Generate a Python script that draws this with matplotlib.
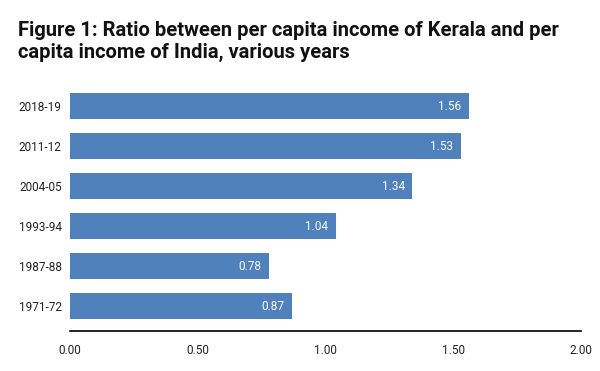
import matplotlib.pyplot as plt

plt.rcParams['font.family'] = ['Roboto', 'DejaVu Sans']

# Data (bottom to top)
years = ["1971-72", "1987-88", "1993-94", "2004-05", "2011-12", "2018-19"]
ratio = [0.87, 0.78, 1.04, 1.34, 1.53, 1.56]
xticks = [0.0, 0.5, 1.0, 1.5, 2.0]

bar_color = "#4f81bd"

fig = plt.figure(figsize=(6, 3.71), dpi=100)
ax = fig.add_axes([70 / 600, 1 - 331 / 371, 511 / 600, 245 / 371])

ypos = range(len(years))
bars = ax.barh(ypos, ratio, height=0.65, color=bar_color)

for b, v in zip(bars, ratio):
    ax.text(b.get_width() - 0.03, b.get_y() + b.get_height() / 2, f"{v:.2f}",
            ha="right", va="center", color="white", fontsize=8.5)

ax.set_xlim(0, 2)
ax.set_ylim(-0.62, 5.5)
ax.set_yticks(list(ypos))
ax.set_yticklabels(years)
ax.set_xticks(xticks)
ax.set_xticklabels([f"{t:.2f}" for t in xticks])
ax.tick_params(axis="both", length=0, labelsize=8.5, labelcolor="#222222")
ax.tick_params(axis="x", pad=9)
ax.tick_params(axis="y", pad=6)

for s in ["top", "right", "left"]:
    ax.spines[s].set_visible(False)
ax.spines["bottom"].set_color("#000000")
ax.spines["bottom"].set_linewidth(1.2)

fig.text(18 / 600, 1 - 21 / 371,
         "Figure 1: Ratio between per capita income of Kerala and per\ncapita income of India, various years",
         ha="left", va="top", fontsize=14.5, fontweight="bold", color="#111111",
         linespacing=1.2)

fig.savefig("out.png", dpi=100)
